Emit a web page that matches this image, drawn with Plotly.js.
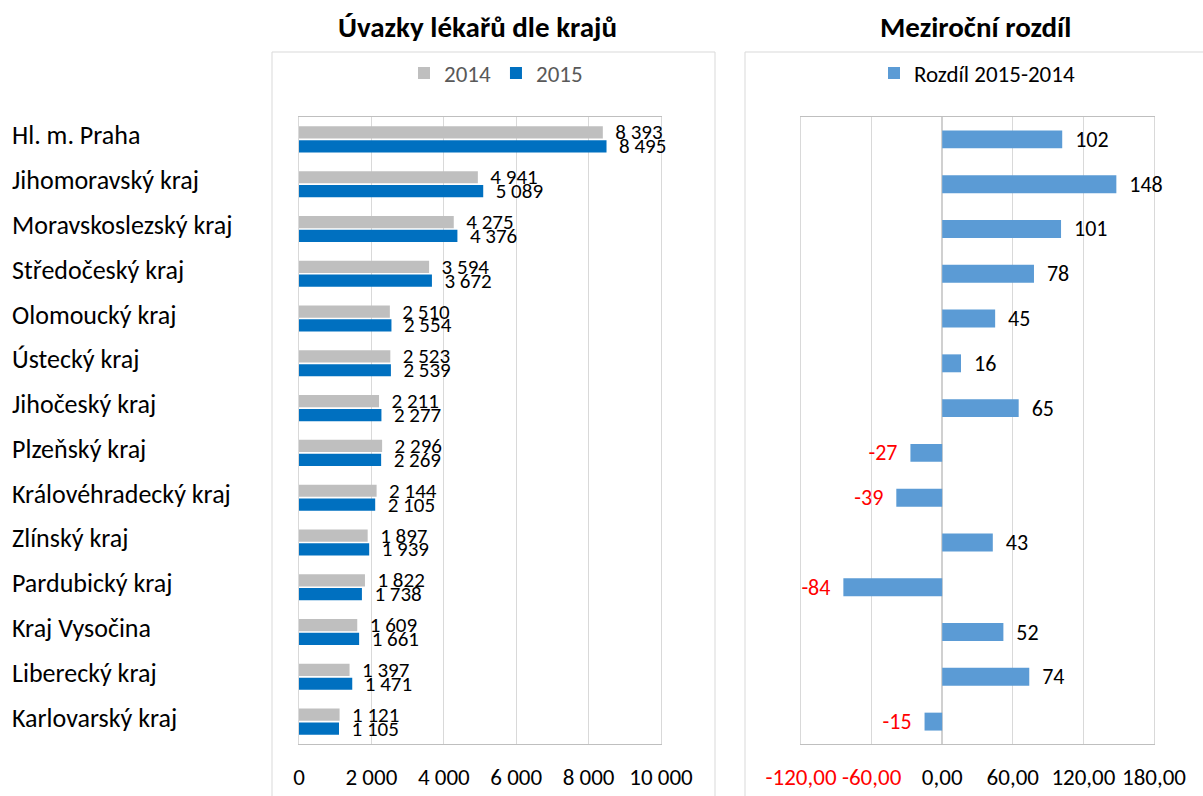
<!DOCTYPE html>
<html>
<head>
<meta charset="utf-8">
<script src="https://cdn.plot.ly/plotly-3.0.1.min.js"></script>
<style>
html,body{margin:0;padding:0;background:#fff;}
#chart{width:1203px;height:796px;}
</style>
</head>
<body>
<div id="chart"></div>
<script>
const categories = ["Hl. m. Praha","Jihomoravský kraj","Moravskoslezský kraj","Středočeský kraj","Olomoucký kraj","Ústecký kraj","Jihočeský kraj","Plzeňský kraj","Královéhradecký kraj","Zlínský kraj","Pardubický kraj","Kraj Vysočina","Liberecký kraj","Karlovarský kraj"];
const values2014 = [8393,4941,4275,3594,2510,2523,2211,2296,2144,1897,1822,1609,1397,1121];
const values2015 = [8495,5089,4376,3672,2554,2539,2277,2269,2105,1939,1738,1661,1471,1105];
const diff = [102,148,101,78,45,16,65,-27,-39,43,-84,52,74,-15];
const leftTicks = [0,2000,4000,6000,8000,10000];
const leftTickLabels = ["0","2 000","4 000","6 000","8 000","10 000"];
const rightTicks = [-120,-60,0,60,120,180];
const rightTickLabels = ["-120,00","-60,00","0,00","60,00","120,00","180,00"];
const seriesNames = ["2014","2015","Rozdíl 2015-2014"];
const titles = ["Úvazky lékařů dle krajů","Meziroční rozdíl"];

const FONT = "Carlito, Calibri, 'Liberation Sans', Arial, sans-serif";
const W = 1203, H = 796;
const px = x => x / W;
const py = y => 1 - y / H;
const NB = '\u00a0\u00a0';
const fmtThousands = v => String(v).replace(/\B(?=(\d{3})+(?!\d))/g, '\u00a0');

const traces = [
  {type:'bar', orientation:'h', name:seriesNames[0], y:categories, x:values2014,
   marker:{color:'#BFBFBF'}, xaxis:'x', yaxis:'y',
   text:values2014.map(v => NB + fmtThousands(v)), textposition:'outside', constraintext:'none', cliponaxis:false,
   textfont:{size:21,color:'#000'}, hoverinfo:'skip', legend:'legend'},
  {type:'bar', orientation:'h', name:seriesNames[1], y:categories, x:values2015,
   marker:{color:'#0070C0'}, xaxis:'x', yaxis:'y',
   text:values2015.map(v => NB + fmtThousands(v)), textposition:'outside', constraintext:'none', cliponaxis:false,
   textfont:{size:21,color:'#000'}, hoverinfo:'skip', legend:'legend'},
  {type:'bar', orientation:'h', name:seriesNames[2], y:categories, x:diff,
   marker:{color:'#5B9BD5'}, xaxis:'x2', yaxis:'y2',
   text:diff.map(v => v < 0 ? String(v) + NB : NB + String(v)),
   textposition:'outside', constraintext:'none', cliponaxis:false,
   textfont:{size:22,color:diff.map(v => v < 0 ? '#FF0000' : '#000')},
   hoverinfo:'skip', legend:'legend2', width:0.4}
];

const annotations = [
  {xref:'paper', yref:'paper', x:px(478), y:py(27), xanchor:'center', yanchor:'middle',
   text:'<b>'+titles[0]+'</b>', showarrow:false, font:{size:29,color:'#000',family:FONT}},
  {xref:'paper', yref:'paper', x:px(975), y:py(27), xanchor:'center', yanchor:'middle',
   text:'<b>'+titles[1]+'</b>', showarrow:false, font:{size:29,color:'#000',family:FONT}}
];
categories.forEach((c, i) => {
  annotations.push({xref:'paper', yref:'y', x:px(10), y:i, xanchor:'left', yanchor:'middle',
    yshift:4, text:c, showarrow:false, font:{size:26,color:'#000',family:FONT}});
});

const layout = {
  width:W, height:H, autosize:false,
  margin:{l:0,r:0,t:0,b:0,pad:0},
  paper_bgcolor:'#fff', plot_bgcolor:'rgba(0,0,0,0)',
  font:{family:FONT, color:'#000'},
  barmode:'group', bargap:0.38, bargroupgap:0.12,
  showlegend:true,
  xaxis:{domain:[px(299), px(661)], range:[0,10000], anchor:'y',
    tickvals:leftTicks, ticktext:leftTickLabels, ticks:'', ticklabelstandoff:12,
    tickfont:{size:23,color:'#000'},
    showgrid:true, gridcolor:'#D9D9D9', gridwidth:1, zeroline:false,
    showline:true, linecolor:'#BFBFBF', linewidth:1, mirror:true, layer:'below traces', fixedrange:true},
  yaxis:{domain:[py(744), py(117)], type:'category', categoryorder:'array', categoryarray:categories,
    autorange:'reversed', showticklabels:false, ticks:'', showgrid:false, zeroline:false,
    showline:true, linecolor:'#D9D9D9', linewidth:1, mirror:true, anchor:'x', layer:'below traces', fixedrange:true},
  xaxis2:{domain:[px(801), px(1154)], range:[-120,180], anchor:'y2',
    tickvals:rightTicks,
    ticktext:rightTicks.map((v,i) => v < 0 ? '<span style="color:#FF0000">'+rightTickLabels[i]+'</span>' : rightTickLabels[i]),
    ticks:'', ticklabelstandoff:12, tickfont:{size:23,color:'#000'},
    showgrid:true, gridcolor:'#D9D9D9', gridwidth:1, zeroline:true, zerolinecolor:'#D0D0D0', zerolinewidth:2,
    showline:true, linecolor:'#BFBFBF', linewidth:1, mirror:true, layer:'below traces', fixedrange:true},
  yaxis2:{domain:[py(744), py(117)], type:'category', categoryorder:'array', categoryarray:categories,
    autorange:'reversed', showticklabels:false, ticks:'', showgrid:false, zeroline:false,
    showline:true, linecolor:'#D9D9D9', linewidth:1, mirror:true, anchor:'x2', layer:'below traces', fixedrange:true},
  legend:{orientation:'h', x:px(496), xanchor:'center', y:py(73), yanchor:'middle',
    font:{size:23,color:'#595959'}, bgcolor:'rgba(0,0,0,0)', traceorder:'normal', itemclick:false},
  legend2:{orientation:'h', x:px(977), xanchor:'center', y:py(73), yanchor:'middle',
    font:{size:23,color:'#000'}, bgcolor:'rgba(0,0,0,0)', itemclick:false},
  shapes:[
    {type:'rect', xref:'paper', yref:'paper', x0:px(272), x1:px(715), y0:py(820), y1:py(52),
     line:{color:'#D9D9D9', width:1}, fillcolor:'rgba(0,0,0,0)', layer:'below'},
    {type:'rect', xref:'paper', yref:'paper', x0:px(745), x1:px(1230), y0:py(820), y1:py(52),
     line:{color:'#D9D9D9', width:1}, fillcolor:'rgba(0,0,0,0)', layer:'below'}
  ],
  annotations:annotations
};

Plotly.newPlot('chart', traces, layout, {staticPlot:true, displayModeBar:false});
</script>
</body>
</html>
